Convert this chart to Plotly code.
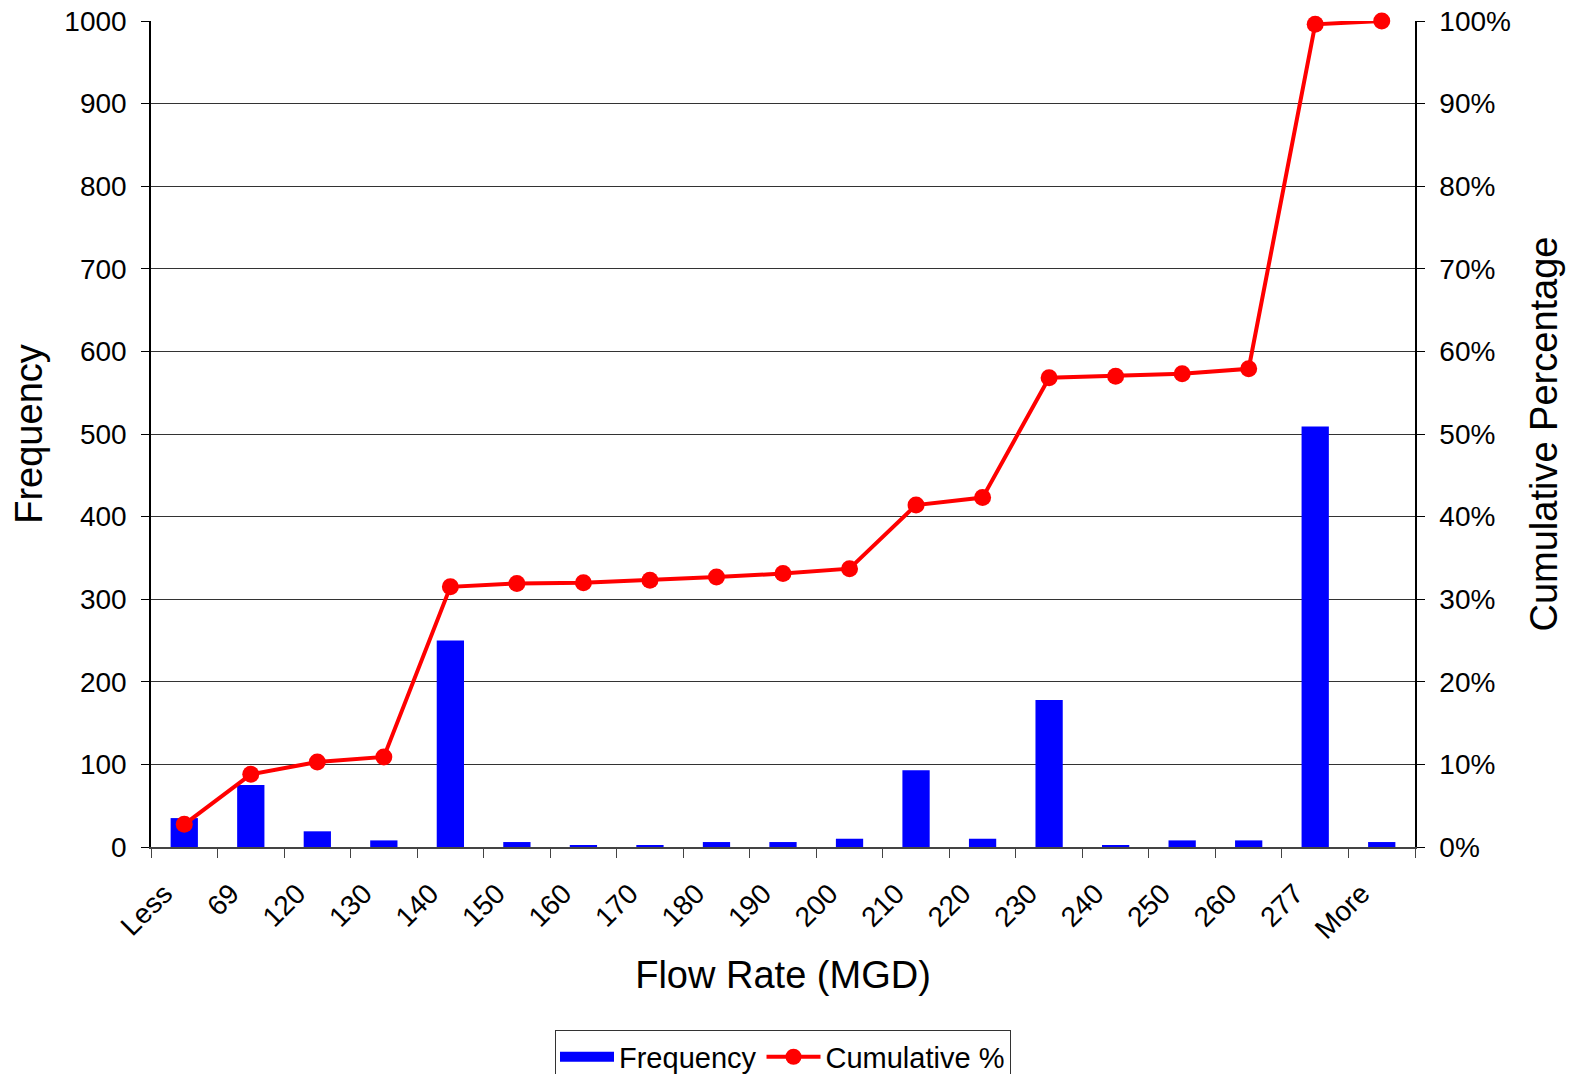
import plotly.graph_objects as go

bins = ["Less", "69", "120", "130", "140", "150", "160", "170", "180", "190",
        "200", "210", "220", "230", "240", "250", "260", "277", "More"]
frequency = [35, 75, 19, 8, 250, 6, 2, 2, 6, 6, 10, 93, 10, 178, 2, 8, 8, 509, 6]
cumulative_pct = [2.75, 8.8, 10.3, 10.9, 31.5, 31.9, 32.0, 32.3, 32.7, 33.1,
                  33.7, 41.4, 42.3, 56.8, 57.0, 57.3, 57.9, 99.6, 100.0]

font_family = "Liberation Sans, Arial, sans-serif"

fig = go.Figure()

fig.add_trace(go.Bar(
    x=bins, y=frequency, name="Frequency",
    marker=dict(color="#0000FF", line=dict(width=0)),
    yaxis="y", showlegend=False, legendgroup="freq",
))

# legend entry drawn as a wide blue strip, like the Excel legend key
fig.add_trace(go.Scatter(
    x=[None], y=[None], name="Frequency", mode="lines",
    line=dict(color="#0000FF", width=18), legendgroup="freq",
))

fig.add_trace(go.Scatter(
    x=bins, y=cumulative_pct, name="Cumulative %",
    mode="lines+markers",
    line=dict(color="#FF0000", width=4),
    marker=dict(color="#FF0000", size=17),
    yaxis="y2", cliponaxis=False,
))

# page body has an 8px margin, so margins are shifted by 8px
fig.update_layout(
    width=1576, height=1074,
    margin=dict(l=143, r=169, t=13, b=235, autoexpand=False),
    paper_bgcolor="white", plot_bgcolor="white",
    font=dict(family=font_family, color="black", size=28),
    bargap=0.59,
    showlegend=True,
    legend=dict(
        orientation="h", x=0.5, xanchor="center", y=-0.222, yanchor="top",
        bordercolor="#333333", borderwidth=1, font=dict(size=29),
        itemwidth=54, tracegroupgap=0,
    ),
    xaxis=dict(
        title=dict(text="Flow Rate (MGD)", font=dict(size=38), standoff=18),
        range=[-0.5, len(bins) - 0.5],
        tickangle=-45, tickson="boundaries",
        ticks="outside", ticklen=9, tickcolor="#444444",
        ticklabelshift=-20, ticklabelstandoff=17,
        showline=True, linecolor="#444444", linewidth=2,
        showgrid=False, tickfont=dict(size=28), automargin=False,
    ),
    yaxis=dict(
        title=dict(text="Frequency", font=dict(size=38), standoff=13),
        range=[0, 1000], dtick=100,
        ticks="outside", ticklen=8, tickcolor="black", ticklabelstandoff=9,
        ticklabeloverflow="allow",
        showline=True, linecolor="black", linewidth=1.5,
        showgrid=True, gridcolor="#333333", gridwidth=1,
        zeroline=False, tickfont=dict(size=28), automargin=False,
    ),
    yaxis2=dict(
        title=dict(text="Cumulative Percentage", font=dict(size=38), standoff=20),
        overlaying="y", side="right",
        range=[0, 100], dtick=10, ticksuffix="%",
        ticks="outside", ticklen=8, tickcolor="black", ticklabelstandoff=9,
        ticklabeloverflow="allow",
        showline=True, linecolor="black", linewidth=1.5,
        showgrid=False, zeroline=False, tickfont=dict(size=28), automargin=False,
    ),
)

fig.write_html("out.html")
